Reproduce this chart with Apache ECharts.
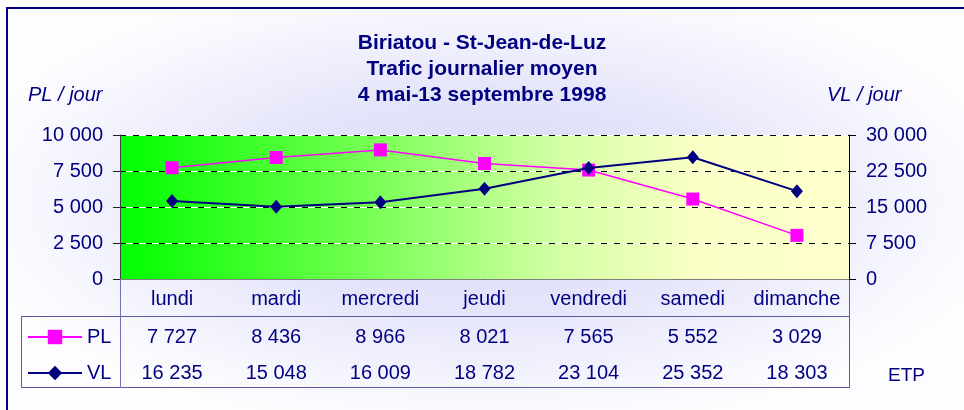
<!DOCTYPE html>
<html>
<head>
<meta charset="utf-8">
<script src="https://cdn.jsdelivr.net/npm/echarts@6/dist/echarts.min.js"></script>
<style>
  html, body { margin: 0; padding: 0; background: #ffffff; overflow: hidden; }
  #wrap { position: relative; width: 964px; height: 410px; overflow: hidden; background: #ffffff; }
  #bg { position: absolute; left: 7px; top: 8px; width: 957px; height: 402px;
    background: radial-gradient(ellipse 56% 58% at 50% 48%, #d6d6f6 0%, #e4e4fa 45%, #f6f6fe 82%, #fdfdff 100%); }
  #chart { position: absolute; left: 0; top: 0; width: 964px; height: 410px; }
</style>
</head>
<body>
<div id="wrap">
  <div id="bg"></div>
  <div id="chart"></div>
</div>
<script>
// ---- data ----
const categories = ['lundi', 'mardi', 'mercredi', 'jeudi', 'vendredi', 'samedi', 'dimanche'];
const plValues = [7727, 8436, 8966, 8021, 7565, 5552, 3029];
const vlValues = [16235, 15048, 16009, 18782, 23104, 25352, 18303];
const seriesNames = ['PL', 'VL'];
const titleLines = ['Biriatou - St-Jean-de-Luz', 'Trafic journalier moyen', '4 mai-13 septembre 1998'];
const leftAxisName = 'PL / jour';
const rightAxisName = 'VL / jour';
const sourceNote = 'ETP';

// ---- layout ----
const W = 964, H = 410;
const GL = 120, GR = 849, GT = 135, GB = 279;
const TABLE_LEFT = 21, TABLE_TOP = 316, TABLE_BOTTOM = 387;
const FRAME_X = 6, FRAME_Y = 7;
const NAVY = '#000080';
const TABLE_LINE = '#5a5aa6';

function fmt(v) { return String(v).replace(/\B(?=(\d{3})+(?!\d))/g, ' '); }

const chart = echarts.init(document.getElementById('chart'), null, { renderer: 'canvas' });

const baseFont = 'Liberation Sans, Arial, sans-serif';

const option = {
  backgroundColor: 'transparent',
  animation: false,
  textStyle: { fontFamily: baseFont },
  title: [
    { text: titleLines.join('\n'), left: 'center', top: 30, padding: 0,
      textStyle: { fontFamily: baseFont, fontSize: 21, fontWeight: 'bold', color: NAVY, lineHeight: 26 } },
    { text: leftAxisName, left: 28, top: 83, padding: 0,
      textStyle: { fontFamily: baseFont, fontSize: 20, fontStyle: 'italic', fontWeight: 'normal', color: NAVY, lineHeight: 24 } },
    { text: rightAxisName, left: 827, top: 83, padding: 0,
      textStyle: { fontFamily: baseFont, fontSize: 20, fontStyle: 'italic', fontWeight: 'normal', color: NAVY, lineHeight: 24 } },
    { text: sourceNote, left: 888, top: 365, padding: 0,
      textStyle: { fontFamily: baseFont, fontSize: 19, fontWeight: 'normal', color: NAVY, lineHeight: 22 } }
  ],
  legend: [
    { data: [seriesNames[0]], orient: 'vertical', left: 27, top: 327, padding: 0,
      itemWidth: 54, itemHeight: 18, textStyle: { fontSize: 20, color: NAVY, fontFamily: baseFont } },
    { data: [seriesNames[1]], orient: 'vertical', left: 27, top: 363, padding: 0,
      itemWidth: 54, itemHeight: 18, textStyle: { fontSize: 20, color: NAVY, fontFamily: baseFont } }
  ],
  grid: {
    left: GL, right: W - GR, top: GT, bottom: H - GB, show: true, borderWidth: 0,
    backgroundColor: new echarts.graphic.LinearGradient(0, 0, 1, 0, [
      { offset: 0, color: '#00ff00' },
      { offset: 0.3, color: '#68ff48' },
      { offset: 0.6, color: '#d4ffa4' },
      { offset: 0.8, color: '#fbffc6' },
      { offset: 1, color: '#ffffcc' }
    ])
  },
  xAxis: [
    { type: 'category', data: categories, boundaryGap: true, position: 'bottom',
      axisLine: { show: true, lineStyle: { color: '#808080', width: 1 } },
      axisTick: { show: false },
      axisLabel: { interval: 0, margin: 10, fontSize: 20, color: NAVY, fontFamily: baseFont },
      splitLine: { show: false } },
    { type: 'category', data: plValues.map(fmt), boundaryGap: true, position: 'bottom', offset: 38,
      axisLine: { show: false }, axisTick: { show: false },
      axisLabel: { interval: 0, margin: 10, fontSize: 20, color: NAVY, fontFamily: baseFont } },
    { type: 'category', data: vlValues.map(fmt), boundaryGap: true, position: 'bottom', offset: 74,
      axisLine: { show: false }, axisTick: { show: false },
      axisLabel: { interval: 0, margin: 10, fontSize: 20, color: NAVY, fontFamily: baseFont } }
  ],
  yAxis: [
    { type: 'value', min: 0, max: 10000, interval: 2500, position: 'left',
      axisLine: { show: true, lineStyle: { color: '#404040', width: 1 } },
      axisTick: { show: true, inside: false, length: 7, lineStyle: { color: '#202020' } },
      axisLabel: { margin: 17, fontSize: 20, color: NAVY, fontFamily: baseFont, formatter: fmt },
      splitLine: { show: true, lineStyle: { color: '#ffffff', width: 1, type: 'solid' } } },
    { type: 'value', min: 0, max: 30000, interval: 7500, position: 'right',
      axisLine: { show: true, lineStyle: { color: '#000000', width: 1 } },
      axisTick: { show: true, inside: false, length: 7, lineStyle: { color: '#000000' } },
      axisLabel: { margin: 17, fontSize: 20, color: NAVY, fontFamily: baseFont, formatter: fmt },
      splitLine: { show: true, lineStyle: { color: '#000000', width: 1, type: [6, 7] } } }
  ],
  series: [
    { name: seriesNames[0], type: 'line', xAxisIndex: 0, yAxisIndex: 0, data: plValues,
      symbol: 'rect', symbolSize: 13, z: 3,
      lineStyle: { color: '#ff00ff', width: 1.5 }, itemStyle: { color: '#ff00ff' } },
    { name: seriesNames[1], type: 'line', xAxisIndex: 0, yAxisIndex: 1, data: vlValues,
      symbol: 'diamond', symbolSize: [12, 14], z: 4,
      lineStyle: { color: NAVY, width: 2 }, itemStyle: { color: NAVY } }
  ],
  graphic: [
    { type: 'line', silent: true, shape: { x1: FRAME_X + 1, y1: FRAME_Y, x2: FRAME_X + 1, y2: H }, style: { stroke: NAVY, lineWidth: 2 } },
    { type: 'line', silent: true, shape: { x1: FRAME_X, y1: FRAME_Y + 1, x2: W, y2: FRAME_Y + 1 }, style: { stroke: NAVY, lineWidth: 2 } },
    { type: 'line', silent: true, shape: { x1: TABLE_LEFT, y1: TABLE_TOP + 0.5, x2: GR, y2: TABLE_TOP + 0.5 }, style: { stroke: TABLE_LINE, lineWidth: 1 } },
    { type: 'line', silent: true, shape: { x1: TABLE_LEFT, y1: TABLE_BOTTOM + 0.5, x2: GR, y2: TABLE_BOTTOM + 0.5 }, style: { stroke: TABLE_LINE, lineWidth: 1 } },
    { type: 'line', silent: true, shape: { x1: TABLE_LEFT + 0.5, y1: TABLE_TOP, x2: TABLE_LEFT + 0.5, y2: TABLE_BOTTOM + 1 }, style: { stroke: TABLE_LINE, lineWidth: 1 } },
    { type: 'line', silent: true, shape: { x1: GL + 0.5, y1: GB, x2: GL + 0.5, y2: TABLE_BOTTOM + 1 }, style: { stroke: '#7272bc', lineWidth: 1 } },
    { type: 'line', silent: true, shape: { x1: GR + 0.5, y1: GB, x2: GR + 0.5, y2: TABLE_BOTTOM + 1 }, style: { stroke: TABLE_LINE, lineWidth: 1 } }
  ]
};

chart.setOption(option);
</script>
</body>
</html>
